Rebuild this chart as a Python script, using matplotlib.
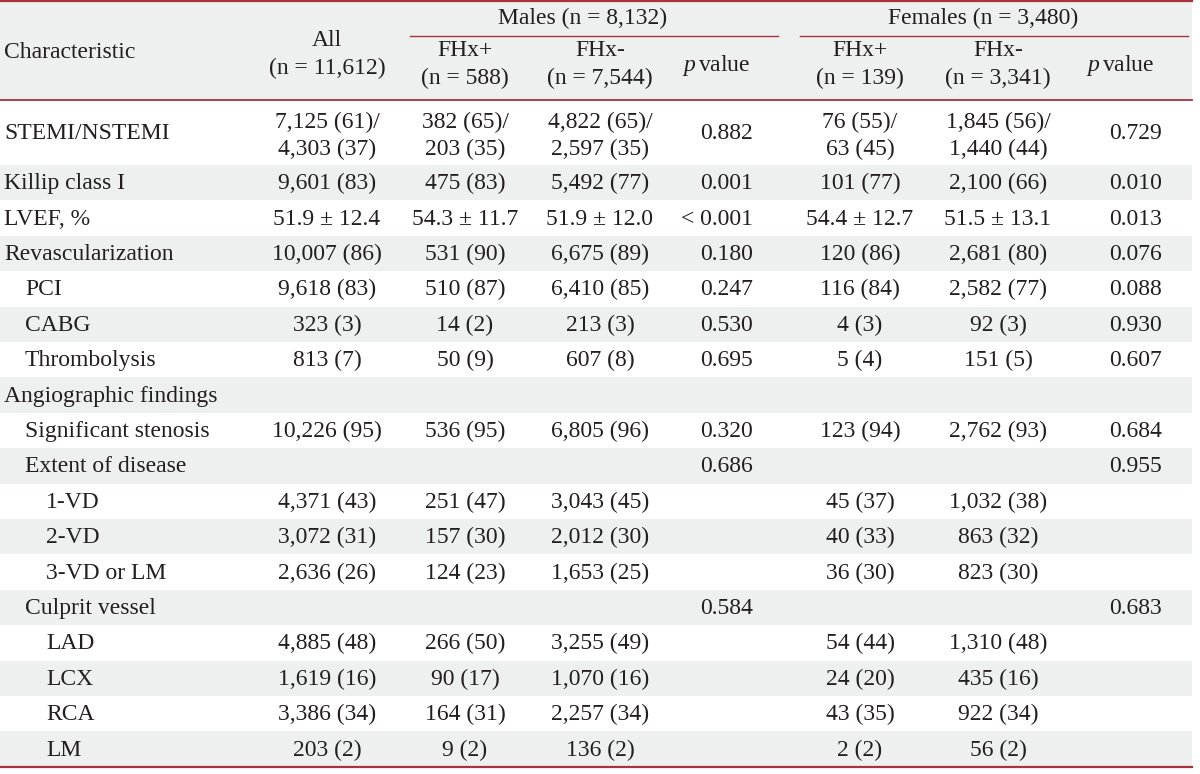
import matplotlib.pyplot as plt
from matplotlib.patches import Rectangle

plt.rcParams['font.family'] = ['Liberation Serif', 'DejaVu Serif']
plt.rcParams['mathtext.fontset'] = 'custom'
plt.rcParams['mathtext.it'] = 'Liberation Serif:italic'
plt.rcParams['mathtext.rm'] = 'Liberation Serif'

# table content
labels = ["STEMI/NSTEMI", "Killip class I", "LVEF, %", "Revascularization", "PCI", "CABG",
          "Thrombolysis", "Angiographic findings", "Significant stenosis", "Extent of disease",
          "1-VD", "2-VD", "3-VD or LM", "Culprit vessel", "LAD", "LCX", "RCA", "LM"]
levels = [0, 0, 0, 0, 1, 1, 1, 0, 1, 1, 2, 2, 2, 1, 2, 2, 2, 2]

all_vals = ["7,125 (61)/\n4,303 (37)", "9,601 (83)", "51.9 ± 12.4", "10,007 (86)", "9,618 (83)",
            "323 (3)", "813 (7)", "", "10,226 (95)", "", "4,371 (43)", "3,072 (31)", "2,636 (26)",
            "", "4,885 (48)", "1,619 (16)", "3,386 (34)", "203 (2)"]
male_pos = ["382 (65)/\n203 (35)", "475 (83)", "54.3 ± 11.7", "531 (90)", "510 (87)", "14 (2)",
            "50 (9)", "", "536 (95)", "", "251 (47)", "157 (30)", "124 (23)", "", "266 (50)",
            "90 (17)", "164 (31)", "9 (2)"]
male_neg = ["4,822 (65)/\n2,597 (35)", "5,492 (77)", "51.9 ± 12.0", "6,675 (89)", "6,410 (85)",
            "213 (3)", "607 (8)", "", "6,805 (96)", "", "3,043 (45)", "2,012 (30)", "1,653 (25)",
            "", "3,255 (49)", "1,070 (16)", "2,257 (34)", "136 (2)"]
male_p = ["0.882", "0.001", "< 0.001", "0.180", "0.247", "0.530", "0.695", "", "0.320", "0.686",
          "", "", "", "0.584", "", "", "", ""]
female_pos = ["76 (55)/\n63 (45)", "101 (77)", "54.4 ± 12.7", "120 (86)", "116 (84)", "4 (3)",
              "5 (4)", "", "123 (94)", "", "45 (37)", "40 (33)", "36 (30)", "", "54 (44)",
              "24 (20)", "43 (35)", "2 (2)"]
female_neg = ["1,845 (56)/\n1,440 (44)", "2,100 (66)", "51.5 ± 13.1", "2,681 (80)", "2,582 (77)",
              "92 (3)", "151 (5)", "", "2,762 (93)", "", "1,032 (38)", "863 (32)", "823 (30)",
              "", "1,310 (48)", "435 (16)", "922 (34)", "56 (2)"]
female_p = ["0.729", "0.010", "0.013", "0.076", "0.088", "0.930", "0.607", "", "0.684", "0.955",
            "", "", "", "0.683", "", "", "", ""]

W, H = 1200, 774
fig = plt.figure(figsize=(12, 7.74), dpi=100)
ax = fig.add_axes([0, 0, 1, 1])
ax.set_xlim(0, W)
ax.set_ylim(H, 0)
ax.axis('off')

txt = '#231f20'
red = '#a8323e'
grey = '#eeefef'
fs = 17

# header
ax.add_patch(Rectangle((0, 0), 1192, 100, color=grey, lw=0))
ax.plot([0, 1192], [1, 1], color=red, lw=1.6)
ax.plot([0, 1192], [100, 100], color=red, lw=1.3)
ax.plot([410, 778], [36, 36], color=red, lw=1.0)
ax.plot([800, 1188], [36, 36], color=red, lw=1.0)

ax.text(4, 52, "Characteristic", fontsize=fs, color=txt, va='center', ha='left')
ax.text(327, 40, "All", fontsize=fs, color=txt, va='center', ha='center')
ax.text(327, 68, "(n = 11,612)", fontsize=fs, color=txt, va='center', ha='center')
ax.text(583, 18, "Males (n = 8,132)", fontsize=fs, color=txt, va='center', ha='center')
ax.text(983, 18, "Females (n = 3,480)", fontsize=fs, color=txt, va='center', ha='center')

cols = [(327, 'center'), (465, 'center'), (600, 'center'), (753, 'right'),
        (860, 'center'), (998, 'center'), (1162, 'right')]
for (x0, x1), n_pos, n_neg in [((465, 600), "(n = 588)", "(n = 7,544)"),
                               ((860, 998), "(n = 139)", "(n = 3,341)")]:
    ax.text(x0, 51, "FHx+", fontsize=fs, color=txt, va='center', ha='center')
    ax.text(x0, 78, n_pos, fontsize=fs, color=txt, va='center', ha='center')
    ax.text(x1, 51, "FHx-", fontsize=fs, color=txt, va='center', ha='center')
    ax.text(x1, 78, n_neg, fontsize=fs, color=txt, va='center', ha='center')
ax.text(716, 66, r"$\mathit{p}\,\mathrm{value}$", fontsize=fs, color=txt, va='center', ha='center')
ax.text(1120, 66, r"$\mathit{p}\,\mathrm{value}$", fontsize=fs, color=txt, va='center', ha='center')

# body
row_h = 35.4
tops = [100] + [165 + i * row_h for i in range(len(labels) - 1)]
heights = [65] + [row_h] * (len(labels) - 1)
columns = [all_vals, male_pos, male_neg, male_p, female_pos, female_neg, female_p]

for i, lab in enumerate(labels):
    y0, h = tops[i], heights[i]
    if i % 2 == 1:
        ax.add_patch(Rectangle((0, y0), 1192, h, color=grey, lw=0))
    yc = y0 + h / 2 + 1
    ax.text(4 + 21 * levels[i], yc, lab, fontsize=fs, color=txt, va='center', ha='left')
    for (x, ha), vals in zip(cols, columns):
        v = vals[i]
        if not v:
            continue
        if "\n" in v:
            a, b = v.split("\n")
            ax.text(x, yc - 11, a, fontsize=fs, color=txt, va='center', ha=ha)
            ax.text(x, yc + 16, b, fontsize=fs, color=txt, va='center', ha=ha)
        else:
            ax.text(x, yc, v, fontsize=fs, color=txt, va='center', ha=ha)

ax.plot([0, 1192], [767, 767], color=red, lw=1.6)

fig.savefig('out.png', dpi=100)
